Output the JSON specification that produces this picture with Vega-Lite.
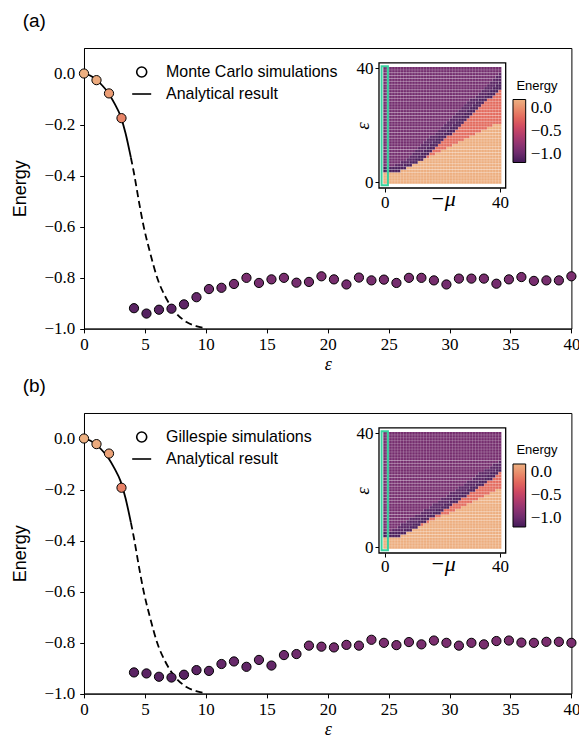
{
"$schema": "https://vega.github.io/schema/vega-lite/v6.json",
"background": "white",
"padding": {"left": 11, "top": 11, "right": 2, "bottom": 0},
"datasets": {
"curve": [
{"x":0,"y":0,"seg":"solid"},{"x":0.5,"y":-0.008,"seg":"solid"},{"x":1,"y":-0.024,"seg":"solid"},{"x":1.5,"y":-0.047,"seg":"solid"},{"x":2,"y":-0.076,"seg":"solid"},{"x":2.5,"y":-0.117,"seg":"solid"},{"x":3,"y":-0.167,"seg":"solid"},{"x":3.4,"y":-0.232,"seg":"solid"},{"x":3.85,"y":-0.33,"seg":"solid"},
{"x":3.85,"y":-0.33,"seg":"dash"},{"x":4.1,"y":-0.39,"seg":"dash"},{"x":4.5,"y":-0.5,"seg":"dash"},{"x":4.9,"y":-0.6,"seg":"dash"},{"x":5.45,"y":-0.707,"seg":"dash"},{"x":6,"y":-0.8,"seg":"dash"},{"x":6.7,"y":-0.877,"seg":"dash"},{"x":7.5,"y":-0.936,"seg":"dash"},{"x":8.45,"y":-0.975,"seg":"dash"},{"x":9.2,"y":-0.99,"seg":"dash"},{"x":10,"y":-0.998,"seg":"dash"}],
"ptsA": [{"x":0,"y":0},{"x":1.026,"y":-0.026},{"x":2.051,"y":-0.078},{"x":3.077,"y":-0.175},{"x":4.103,"y":-0.92},{"x":5.128,"y":-0.941},{"x":6.154,"y":-0.926},{"x":7.179,"y":-0.922},{"x":8.205,"y":-0.905},{"x":9.231,"y":-0.877},{"x":10.256,"y":-0.845},{"x":11.282,"y":-0.84},{"x":12.308,"y":-0.825},{"x":13.333,"y":-0.801},{"x":14.359,"y":-0.821},{"x":15.385,"y":-0.807},{"x":16.41,"y":-0.801},{"x":17.436,"y":-0.82},{"x":18.462,"y":-0.817},{"x":19.487,"y":-0.795},{"x":20.513,"y":-0.807},{"x":21.538,"y":-0.827},{"x":22.564,"y":-0.8},{"x":23.59,"y":-0.811},{"x":24.615,"y":-0.808},{"x":25.641,"y":-0.821},{"x":26.667,"y":-0.801},{"x":27.692,"y":-0.801},{"x":28.718,"y":-0.811},{"x":29.744,"y":-0.827},{"x":30.769,"y":-0.804},{"x":31.795,"y":-0.804},{"x":32.821,"y":-0.804},{"x":33.846,"y":-0.824},{"x":34.872,"y":-0.807},{"x":35.897,"y":-0.798},{"x":36.923,"y":-0.813},{"x":37.949,"y":-0.811},{"x":38.974,"y":-0.811},{"x":40,"y":-0.795}],
"ptsB": [{"x":0,"y":0},{"x":1.026,"y":-0.022},{"x":2.051,"y":-0.059},{"x":3.077,"y":-0.193},{"x":4.103,"y":-0.917},{"x":5.128,"y":-0.921},{"x":6.154,"y":-0.934},{"x":7.179,"y":-0.937},{"x":8.205,"y":-0.926},{"x":9.231,"y":-0.908},{"x":10.256,"y":-0.911},{"x":11.282,"y":-0.884},{"x":12.308,"y":-0.874},{"x":13.333,"y":-0.895},{"x":14.359,"y":-0.868},{"x":15.385,"y":-0.89},{"x":16.41,"y":-0.849},{"x":17.436,"y":-0.845},{"x":18.462,"y":-0.812},{"x":19.487,"y":-0.816},{"x":20.513,"y":-0.819},{"x":21.538,"y":-0.809},{"x":22.564,"y":-0.812},{"x":23.59,"y":-0.789},{"x":24.615,"y":-0.801},{"x":25.641,"y":-0.81},{"x":26.667,"y":-0.798},{"x":27.692,"y":-0.807},{"x":28.718,"y":-0.792},{"x":29.744,"y":-0.801},{"x":30.769,"y":-0.812},{"x":31.795,"y":-0.801},{"x":32.821,"y":-0.807},{"x":33.846,"y":-0.794},{"x":34.872,"y":-0.792},{"x":35.897,"y":-0.8},{"x":36.923,"y":-0.801},{"x":37.949,"y":-0.797},{"x":38.974,"y":-0.797},{"x":40,"y":-0.801}],
"legA": [{"lab":"Monte Carlo simulations"}],
"legB": [{"lab":"Gillespie simulations"}],
"one": [{"k":1}],
"grid": [{"g":0.5},{"g":1.5},{"g":2.5},{"g":3.5},{"g":4.5},{"g":5.5},{"g":6.5},{"g":7.5},{"g":8.5},{"g":9.5},{"g":10.5},{"g":11.5},{"g":12.5},{"g":13.5},{"g":14.5},{"g":15.5},{"g":16.5},{"g":17.5},{"g":18.5},{"g":19.5},{"g":20.5},{"g":21.5},{"g":22.5},{"g":23.5},{"g":24.5},{"g":25.5},{"g":26.5},{"g":27.5},{"g":28.5},{"g":29.5},{"g":30.5},{"g":31.5},{"g":32.5},{"g":33.5},{"g":34.5},{"g":35.5},{"g":36.5},{"g":37.5},{"g":38.5},{"g":39.5}],
"hA": [
{"x":-0.5,"x2":40.5,"y":-0.5,"y2":3.5,"e":-0.01},
{"x":-0.5,"x2":5.5,"y":3.5,"y2":4.5,"e":-0.98},{"x":5.5,"x2":40.5,"y":3.5,"y2":4.5,"e":-0.01},
{"x":-0.5,"x2":7.5,"y":4.5,"y2":5.5,"e":-0.98},{"x":7.5,"x2":40.5,"y":4.5,"y2":5.5,"e":-0.01},
{"x":-0.5,"x2":3.5,"y":5.5,"y2":6.5,"e":-0.83},{"x":3.5,"x2":6.5,"y":5.5,"y2":6.5,"e":-0.93},{"x":6.5,"x2":9.5,"y":5.5,"y2":6.5,"e":-0.98},{"x":9.5,"x2":40.5,"y":5.5,"y2":6.5,"e":-0.01},
{"x":-0.5,"x2":5.5,"y":6.5,"y2":7.5,"e":-0.83},{"x":5.5,"x2":8.5,"y":6.5,"y2":7.5,"e":-0.93},{"x":8.5,"x2":11.5,"y":6.5,"y2":7.5,"e":-0.98},{"x":11.5,"x2":40.5,"y":6.5,"y2":7.5,"e":-0.01},
{"x":-0.5,"x2":7.5,"y":7.5,"y2":8.5,"e":-0.83},{"x":7.5,"x2":10.5,"y":7.5,"y2":8.5,"e":-0.93},{"x":10.5,"x2":13.5,"y":7.5,"y2":8.5,"e":-0.98},{"x":13.5,"x2":40.5,"y":7.5,"y2":8.5,"e":-0.01},
{"x":-0.5,"x2":8.5,"y":8.5,"y2":9.5,"e":-0.83},{"x":8.5,"x2":11.5,"y":8.5,"y2":9.5,"e":-0.93},{"x":11.5,"x2":14.5,"y":8.5,"y2":9.5,"e":-0.98},{"x":14.5,"x2":15.5,"y":8.5,"y2":9.5,"e":-0.28},{"x":15.5,"x2":40.5,"y":8.5,"y2":9.5,"e":-0.01},
{"x":-0.5,"x2":9.5,"y":9.5,"y2":10.5,"e":-0.83},{"x":9.5,"x2":12.5,"y":9.5,"y2":10.5,"e":-0.93},{"x":12.5,"x2":15.5,"y":9.5,"y2":10.5,"e":-0.98},{"x":15.5,"x2":17.5,"y":9.5,"y2":10.5,"e":-0.28},{"x":17.5,"x2":40.5,"y":9.5,"y2":10.5,"e":-0.01},
{"x":-0.5,"x2":10.5,"y":10.5,"y2":11.5,"e":-0.83},{"x":10.5,"x2":13.5,"y":10.5,"y2":11.5,"e":-0.93},{"x":13.5,"x2":16.5,"y":10.5,"y2":11.5,"e":-0.98},{"x":16.5,"x2":19.5,"y":10.5,"y2":11.5,"e":-0.28},{"x":19.5,"x2":40.5,"y":10.5,"y2":11.5,"e":-0.01},
{"x":-0.5,"x2":11.5,"y":11.5,"y2":12.5,"e":-0.83},{"x":11.5,"x2":14.5,"y":11.5,"y2":12.5,"e":-0.93},{"x":14.5,"x2":17.5,"y":11.5,"y2":12.5,"e":-0.98},{"x":17.5,"x2":21.5,"y":11.5,"y2":12.5,"e":-0.28},{"x":21.5,"x2":40.5,"y":11.5,"y2":12.5,"e":-0.01},
{"x":-0.5,"x2":12.5,"y":12.5,"y2":13.5,"e":-0.83},{"x":12.5,"x2":15.5,"y":12.5,"y2":13.5,"e":-0.93},{"x":15.5,"x2":18.5,"y":12.5,"y2":13.5,"e":-0.98},{"x":18.5,"x2":23.5,"y":12.5,"y2":13.5,"e":-0.28},{"x":23.5,"x2":40.5,"y":12.5,"y2":13.5,"e":-0.01},
{"x":-0.5,"x2":13.5,"y":13.5,"y2":14.5,"e":-0.83},{"x":13.5,"x2":16.5,"y":13.5,"y2":14.5,"e":-0.93},{"x":16.5,"x2":19.5,"y":13.5,"y2":14.5,"e":-0.98},{"x":19.5,"x2":25.5,"y":13.5,"y2":14.5,"e":-0.28},{"x":25.5,"x2":40.5,"y":13.5,"y2":14.5,"e":-0.01},
{"x":-0.5,"x2":14.5,"y":14.5,"y2":15.5,"e":-0.83},{"x":14.5,"x2":17.5,"y":14.5,"y2":15.5,"e":-0.93},{"x":17.5,"x2":20.5,"y":14.5,"y2":15.5,"e":-0.98},{"x":20.5,"x2":27.5,"y":14.5,"y2":15.5,"e":-0.28},{"x":27.5,"x2":40.5,"y":14.5,"y2":15.5,"e":-0.01},
{"x":-0.5,"x2":15.5,"y":15.5,"y2":16.5,"e":-0.83},{"x":15.5,"x2":18.5,"y":15.5,"y2":16.5,"e":-0.93},{"x":18.5,"x2":21.5,"y":15.5,"y2":16.5,"e":-0.98},{"x":21.5,"x2":29.5,"y":15.5,"y2":16.5,"e":-0.28},{"x":29.5,"x2":40.5,"y":15.5,"y2":16.5,"e":-0.01},
{"x":-0.5,"x2":17.5,"y":16.5,"y2":17.5,"e":-0.83},{"x":17.5,"x2":20.5,"y":16.5,"y2":17.5,"e":-0.93},{"x":20.5,"x2":23.5,"y":16.5,"y2":17.5,"e":-0.98},{"x":23.5,"x2":31.5,"y":16.5,"y2":17.5,"e":-0.28},{"x":31.5,"x2":40.5,"y":16.5,"y2":17.5,"e":-0.01},
{"x":-0.5,"x2":18.5,"y":17.5,"y2":18.5,"e":-0.83},{"x":18.5,"x2":21.5,"y":17.5,"y2":18.5,"e":-0.93},{"x":21.5,"x2":24.5,"y":17.5,"y2":18.5,"e":-0.98},{"x":24.5,"x2":33.5,"y":17.5,"y2":18.5,"e":-0.28},{"x":33.5,"x2":40.5,"y":17.5,"y2":18.5,"e":-0.01},
{"x":-0.5,"x2":19.5,"y":18.5,"y2":19.5,"e":-0.83},{"x":19.5,"x2":22.5,"y":18.5,"y2":19.5,"e":-0.93},{"x":22.5,"x2":25.5,"y":18.5,"y2":19.5,"e":-0.98},{"x":25.5,"x2":35.5,"y":18.5,"y2":19.5,"e":-0.28},{"x":35.5,"x2":40.5,"y":18.5,"y2":19.5,"e":-0.01},
{"x":-0.5,"x2":20.5,"y":19.5,"y2":20.5,"e":-0.83},{"x":20.5,"x2":23.5,"y":19.5,"y2":20.5,"e":-0.93},{"x":23.5,"x2":26.5,"y":19.5,"y2":20.5,"e":-0.98},{"x":26.5,"x2":37.5,"y":19.5,"y2":20.5,"e":-0.28},{"x":37.5,"x2":40.5,"y":19.5,"y2":20.5,"e":-0.01},
{"x":-0.5,"x2":21.5,"y":20.5,"y2":21.5,"e":-0.83},{"x":21.5,"x2":24.5,"y":20.5,"y2":21.5,"e":-0.93},{"x":24.5,"x2":27.5,"y":20.5,"y2":21.5,"e":-0.98},{"x":27.5,"x2":40.5,"y":20.5,"y2":21.5,"e":-0.28},
{"x":-0.5,"x2":22.5,"y":21.5,"y2":22.5,"e":-0.83},{"x":22.5,"x2":25.5,"y":21.5,"y2":22.5,"e":-0.93},{"x":25.5,"x2":28.5,"y":21.5,"y2":22.5,"e":-0.98},{"x":28.5,"x2":40.5,"y":21.5,"y2":22.5,"e":-0.28},
{"x":-0.5,"x2":23.5,"y":22.5,"y2":23.5,"e":-0.83},{"x":23.5,"x2":26.5,"y":22.5,"y2":23.5,"e":-0.93},{"x":26.5,"x2":29.5,"y":22.5,"y2":23.5,"e":-0.98},{"x":29.5,"x2":40.5,"y":22.5,"y2":23.5,"e":-0.28},
{"x":-0.5,"x2":24.5,"y":23.5,"y2":24.5,"e":-0.83},{"x":24.5,"x2":27.5,"y":23.5,"y2":24.5,"e":-0.93},{"x":27.5,"x2":30.5,"y":23.5,"y2":24.5,"e":-0.98},{"x":30.5,"x2":40.5,"y":23.5,"y2":24.5,"e":-0.28},
{"x":-0.5,"x2":25.5,"y":24.5,"y2":25.5,"e":-0.83},{"x":25.5,"x2":28.5,"y":24.5,"y2":25.5,"e":-0.93},{"x":28.5,"x2":31.5,"y":24.5,"y2":25.5,"e":-0.98},{"x":31.5,"x2":40.5,"y":24.5,"y2":25.5,"e":-0.28},
{"x":-0.5,"x2":26.5,"y":25.5,"y2":26.5,"e":-0.83},{"x":26.5,"x2":29.5,"y":25.5,"y2":26.5,"e":-0.93},{"x":29.5,"x2":32.5,"y":25.5,"y2":26.5,"e":-0.98},{"x":32.5,"x2":40.5,"y":25.5,"y2":26.5,"e":-0.28},
{"x":-0.5,"x2":27.5,"y":26.5,"y2":27.5,"e":-0.83},{"x":27.5,"x2":30.5,"y":26.5,"y2":27.5,"e":-0.93},{"x":30.5,"x2":33.5,"y":26.5,"y2":27.5,"e":-0.98},{"x":33.5,"x2":40.5,"y":26.5,"y2":27.5,"e":-0.28},
{"x":-0.5,"x2":28.5,"y":27.5,"y2":28.5,"e":-0.83},{"x":28.5,"x2":31.5,"y":27.5,"y2":28.5,"e":-0.93},{"x":31.5,"x2":34.5,"y":27.5,"y2":28.5,"e":-0.98},{"x":34.5,"x2":40.5,"y":27.5,"y2":28.5,"e":-0.28},
{"x":-0.5,"x2":29.5,"y":28.5,"y2":29.5,"e":-0.83},{"x":29.5,"x2":32.5,"y":28.5,"y2":29.5,"e":-0.93},{"x":32.5,"x2":35.5,"y":28.5,"y2":29.5,"e":-0.98},{"x":35.5,"x2":40.5,"y":28.5,"y2":29.5,"e":-0.28},
{"x":-0.5,"x2":31.5,"y":29.5,"y2":30.5,"e":-0.83},{"x":31.5,"x2":34.5,"y":29.5,"y2":30.5,"e":-0.93},{"x":34.5,"x2":37.5,"y":29.5,"y2":30.5,"e":-0.98},{"x":37.5,"x2":40.5,"y":29.5,"y2":30.5,"e":-0.28},
{"x":-0.5,"x2":32.5,"y":30.5,"y2":31.5,"e":-0.83},{"x":32.5,"x2":35.5,"y":30.5,"y2":31.5,"e":-0.93},{"x":35.5,"x2":38.5,"y":30.5,"y2":31.5,"e":-0.98},{"x":38.5,"x2":40.5,"y":30.5,"y2":31.5,"e":-0.28},
{"x":-0.5,"x2":33.5,"y":31.5,"y2":32.5,"e":-0.83},{"x":33.5,"x2":36.5,"y":31.5,"y2":32.5,"e":-0.93},{"x":36.5,"x2":39.5,"y":31.5,"y2":32.5,"e":-0.98},{"x":39.5,"x2":40.5,"y":31.5,"y2":32.5,"e":-0.28},
{"x":-0.5,"x2":34.5,"y":32.5,"y2":33.5,"e":-0.83},{"x":34.5,"x2":37.5,"y":32.5,"y2":33.5,"e":-0.93},{"x":37.5,"x2":40.5,"y":32.5,"y2":33.5,"e":-0.98},
{"x":-0.5,"x2":35.5,"y":33.5,"y2":34.5,"e":-0.83},{"x":35.5,"x2":38.5,"y":33.5,"y2":34.5,"e":-0.93},{"x":38.5,"x2":40.5,"y":33.5,"y2":34.5,"e":-0.98},
{"x":-0.5,"x2":36.5,"y":34.5,"y2":35.5,"e":-0.83},{"x":36.5,"x2":39.5,"y":34.5,"y2":35.5,"e":-0.93},{"x":39.5,"x2":40.5,"y":34.5,"y2":35.5,"e":-0.98},
{"x":-0.5,"x2":37.5,"y":35.5,"y2":36.5,"e":-0.83},{"x":37.5,"x2":40.5,"y":35.5,"y2":36.5,"e":-0.93},
{"x":-0.5,"x2":38.5,"y":36.5,"y2":37.5,"e":-0.83},{"x":38.5,"x2":40.5,"y":36.5,"y2":37.5,"e":-0.93},
{"x":-0.5,"x2":39.5,"y":37.5,"y2":38.5,"e":-0.83},{"x":39.5,"x2":40.5,"y":37.5,"y2":38.5,"e":-0.93},
{"x":-0.5,"x2":40.5,"y":38.5,"y2":40.5,"e":-0.83}],
"hB": [
{"x":-0.5,"x2":40.5,"y":-0.5,"y2":3.5,"e":-0.01},
{"x":-0.5,"x2":5.5,"y":3.5,"y2":4.5,"e":-0.98},{"x":5.5,"x2":40.5,"y":3.5,"y2":4.5,"e":-0.01},
{"x":-0.5,"x2":7.5,"y":4.5,"y2":5.5,"e":-0.98},{"x":7.5,"x2":40.5,"y":4.5,"y2":5.5,"e":-0.01},
{"x":-0.5,"x2":2.5,"y":5.5,"y2":6.5,"e":-0.82},{"x":2.5,"x2":6.5,"y":5.5,"y2":6.5,"e":-0.93},{"x":6.5,"x2":9.5,"y":5.5,"y2":6.5,"e":-0.98},{"x":9.5,"x2":40.5,"y":5.5,"y2":6.5,"e":-0.01},
{"x":-0.5,"x2":4.5,"y":6.5,"y2":7.5,"e":-0.82},{"x":4.5,"x2":8.5,"y":6.5,"y2":7.5,"e":-0.93},{"x":8.5,"x2":11.5,"y":6.5,"y2":7.5,"e":-0.98},{"x":11.5,"x2":40.5,"y":6.5,"y2":7.5,"e":-0.01},
{"x":-0.5,"x2":5.5,"y":7.5,"y2":8.5,"e":-0.82},{"x":5.5,"x2":9.5,"y":7.5,"y2":8.5,"e":-0.93},{"x":9.5,"x2":12.5,"y":7.5,"y2":8.5,"e":-0.98},{"x":12.5,"x2":13.5,"y":7.5,"y2":8.5,"e":-0.28},{"x":13.5,"x2":40.5,"y":7.5,"y2":8.5,"e":-0.01},
{"x":-0.5,"x2":7.5,"y":8.5,"y2":9.5,"e":-0.82},{"x":7.5,"x2":11.5,"y":8.5,"y2":9.5,"e":-0.93},{"x":11.5,"x2":14.5,"y":8.5,"y2":9.5,"e":-0.98},{"x":14.5,"x2":15.5,"y":8.5,"y2":9.5,"e":-0.28},{"x":15.5,"x2":40.5,"y":8.5,"y2":9.5,"e":-0.01},
{"x":-0.5,"x2":8.5,"y":9.5,"y2":10.5,"e":-0.82},{"x":8.5,"x2":12.5,"y":9.5,"y2":10.5,"e":-0.93},{"x":12.5,"x2":15.5,"y":9.5,"y2":10.5,"e":-0.98},{"x":15.5,"x2":17.5,"y":9.5,"y2":10.5,"e":-0.28},{"x":17.5,"x2":40.5,"y":9.5,"y2":10.5,"e":-0.01},
{"x":-0.5,"x2":10.5,"y":10.5,"y2":11.5,"e":-0.82},{"x":10.5,"x2":14.5,"y":10.5,"y2":11.5,"e":-0.93},{"x":14.5,"x2":17.5,"y":10.5,"y2":11.5,"e":-0.98},{"x":17.5,"x2":19.5,"y":10.5,"y2":11.5,"e":-0.28},{"x":19.5,"x2":40.5,"y":10.5,"y2":11.5,"e":-0.01},
{"x":-0.5,"x2":12.5,"y":11.5,"y2":12.5,"e":-0.82},{"x":12.5,"x2":16.5,"y":11.5,"y2":12.5,"e":-0.93},{"x":16.5,"x2":19.5,"y":11.5,"y2":12.5,"e":-0.98},{"x":19.5,"x2":22.5,"y":11.5,"y2":12.5,"e":-0.28},{"x":22.5,"x2":40.5,"y":11.5,"y2":12.5,"e":-0.01},
{"x":-0.5,"x2":13.5,"y":12.5,"y2":13.5,"e":-0.82},{"x":13.5,"x2":17.5,"y":12.5,"y2":13.5,"e":-0.93},{"x":17.5,"x2":20.5,"y":12.5,"y2":13.5,"e":-0.98},{"x":20.5,"x2":24.5,"y":12.5,"y2":13.5,"e":-0.28},{"x":24.5,"x2":40.5,"y":12.5,"y2":13.5,"e":-0.01},
{"x":-0.5,"x2":15.5,"y":13.5,"y2":14.5,"e":-0.82},{"x":15.5,"x2":19.5,"y":13.5,"y2":14.5,"e":-0.93},{"x":19.5,"x2":22.5,"y":13.5,"y2":14.5,"e":-0.98},{"x":22.5,"x2":26.5,"y":13.5,"y2":14.5,"e":-0.28},{"x":26.5,"x2":40.5,"y":13.5,"y2":14.5,"e":-0.01},
{"x":-0.5,"x2":16.5,"y":14.5,"y2":15.5,"e":-0.82},{"x":16.5,"x2":20.5,"y":14.5,"y2":15.5,"e":-0.93},{"x":20.5,"x2":23.5,"y":14.5,"y2":15.5,"e":-0.98},{"x":23.5,"x2":28.5,"y":14.5,"y2":15.5,"e":-0.28},{"x":28.5,"x2":40.5,"y":14.5,"y2":15.5,"e":-0.01},
{"x":-0.5,"x2":18.5,"y":15.5,"y2":16.5,"e":-0.82},{"x":18.5,"x2":22.5,"y":15.5,"y2":16.5,"e":-0.93},{"x":22.5,"x2":25.5,"y":15.5,"y2":16.5,"e":-0.98},{"x":25.5,"x2":30.5,"y":15.5,"y2":16.5,"e":-0.28},{"x":30.5,"x2":40.5,"y":15.5,"y2":16.5,"e":-0.01},
{"x":-0.5,"x2":19.5,"y":16.5,"y2":17.5,"e":-0.82},{"x":19.5,"x2":23.5,"y":16.5,"y2":17.5,"e":-0.93},{"x":23.5,"x2":26.5,"y":16.5,"y2":17.5,"e":-0.98},{"x":26.5,"x2":32.5,"y":16.5,"y2":17.5,"e":-0.28},{"x":32.5,"x2":40.5,"y":16.5,"y2":17.5,"e":-0.01},
{"x":-0.5,"x2":21.5,"y":17.5,"y2":18.5,"e":-0.82},{"x":21.5,"x2":25.5,"y":17.5,"y2":18.5,"e":-0.93},{"x":25.5,"x2":28.5,"y":17.5,"y2":18.5,"e":-0.98},{"x":28.5,"x2":34.5,"y":17.5,"y2":18.5,"e":-0.28},{"x":34.5,"x2":40.5,"y":17.5,"y2":18.5,"e":-0.01},
{"x":-0.5,"x2":22.5,"y":18.5,"y2":19.5,"e":-0.82},{"x":22.5,"x2":26.5,"y":18.5,"y2":19.5,"e":-0.93},{"x":26.5,"x2":29.5,"y":18.5,"y2":19.5,"e":-0.98},{"x":29.5,"x2":36.5,"y":18.5,"y2":19.5,"e":-0.28},{"x":36.5,"x2":40.5,"y":18.5,"y2":19.5,"e":-0.01},
{"x":-0.5,"x2":24.5,"y":19.5,"y2":20.5,"e":-0.82},{"x":24.5,"x2":28.5,"y":19.5,"y2":20.5,"e":-0.93},{"x":28.5,"x2":31.5,"y":19.5,"y2":20.5,"e":-0.98},{"x":31.5,"x2":38.5,"y":19.5,"y2":20.5,"e":-0.28},{"x":38.5,"x2":40.5,"y":19.5,"y2":20.5,"e":-0.01},
{"x":-0.5,"x2":25.5,"y":20.5,"y2":21.5,"e":-0.82},{"x":25.5,"x2":29.5,"y":20.5,"y2":21.5,"e":-0.93},{"x":29.5,"x2":32.5,"y":20.5,"y2":21.5,"e":-0.98},{"x":32.5,"x2":40.5,"y":20.5,"y2":21.5,"e":-0.28},
{"x":-0.5,"x2":27.5,"y":21.5,"y2":22.5,"e":-0.82},{"x":27.5,"x2":31.5,"y":21.5,"y2":22.5,"e":-0.93},{"x":31.5,"x2":34.5,"y":21.5,"y2":22.5,"e":-0.98},{"x":34.5,"x2":40.5,"y":21.5,"y2":22.5,"e":-0.28},
{"x":-0.5,"x2":28.5,"y":22.5,"y2":23.5,"e":-0.82},{"x":28.5,"x2":32.5,"y":22.5,"y2":23.5,"e":-0.93},{"x":32.5,"x2":35.5,"y":22.5,"y2":23.5,"e":-0.98},{"x":35.5,"x2":40.5,"y":22.5,"y2":23.5,"e":-0.28},
{"x":-0.5,"x2":30.5,"y":23.5,"y2":24.5,"e":-0.82},{"x":30.5,"x2":34.5,"y":23.5,"y2":24.5,"e":-0.93},{"x":34.5,"x2":37.5,"y":23.5,"y2":24.5,"e":-0.98},{"x":37.5,"x2":40.5,"y":23.5,"y2":24.5,"e":-0.28},
{"x":-0.5,"x2":31.5,"y":24.5,"y2":25.5,"e":-0.82},{"x":31.5,"x2":35.5,"y":24.5,"y2":25.5,"e":-0.93},{"x":35.5,"x2":38.5,"y":24.5,"y2":25.5,"e":-0.98},{"x":38.5,"x2":40.5,"y":24.5,"y2":25.5,"e":-0.28},
{"x":-0.5,"x2":32.5,"y":25.5,"y2":26.5,"e":-0.82},{"x":32.5,"x2":36.5,"y":25.5,"y2":26.5,"e":-0.93},{"x":36.5,"x2":39.5,"y":25.5,"y2":26.5,"e":-0.98},{"x":39.5,"x2":40.5,"y":25.5,"y2":26.5,"e":-0.28},
{"x":-0.5,"x2":34.5,"y":26.5,"y2":27.5,"e":-0.82},{"x":34.5,"x2":38.5,"y":26.5,"y2":27.5,"e":-0.93},{"x":38.5,"x2":40.5,"y":26.5,"y2":27.5,"e":-0.98},
{"x":-0.5,"x2":36.5,"y":27.5,"y2":28.5,"e":-0.82},{"x":36.5,"x2":40.5,"y":27.5,"y2":28.5,"e":-0.93},
{"x":-0.5,"x2":37.5,"y":28.5,"y2":29.5,"e":-0.82},{"x":37.5,"x2":40.5,"y":28.5,"y2":29.5,"e":-0.93},
{"x":-0.5,"x2":39.5,"y":29.5,"y2":30.5,"e":-0.82},{"x":39.5,"x2":40.5,"y":29.5,"y2":30.5,"e":-0.93},
{"x":-0.5,"x2":40.5,"y":30.5,"y2":40.5,"e":-0.82}]
},
"vconcat": [
{
"width": 487.4, "height": 280.6,
"title": {"text": "(a)", "anchor": "start", "frame": "group", "dx": -61.3, "offset": 2, "baseline": "alphabetic", "font": "Liberation Sans", "fontSize": 19, "fontWeight": "normal", "color": "black"},
"layer": [
{
"encoding": {
"x": {"field": "x", "type": "quantitative", "scale": {"domain": [0, 40], "nice": false, "zero": false}, "axis": {"values": [0,5,10,15,20,25,30,35,40], "title": "ε", "titleFont": "Liberation Serif", "labelFont": "Liberation Serif", "titleFontStyle": "italic", "titleFontSize": 18, "titlePadding": 3, "tickSize": 4.3, "labelPadding": 3.5, "labelFontSize": 17}},
"y": {"field": "y", "type": "quantitative", "scale": {"domain": [-1, 0.1], "nice": false, "zero": false}, "axis": {"values": [-1,-0.8,-0.6,-0.4,-0.2,0], "labelExpr": "replace(format(datum.value, '.1f'), '-', '−')", "labelFont": "Liberation Serif", "labelFontSize": 17, "title": "Energy", "titleFont": "Liberation Sans", "titleFontSize": 18, "titlePadding": 14, "tickSize": 4.3, "labelPadding": 5}}
},
"layer": [
{"data": {"name": "curve"}, "transform": [{"filter": "datum.seg == 'solid'"}], "mark": {"type": "line", "color": "black", "strokeWidth": 1.8, "interpolate": "monotone"}},
{"data": {"name": "curve"}, "transform": [{"filter": "datum.seg == 'dash'"}], "mark": {"type": "line", "color": "black", "strokeWidth": 1.8, "strokeDash": [7, 4], "interpolate": "monotone"}},
{"data": {"name": "ptsA"}, "mark": {"type": "point", "filled": true, "size": 85, "stroke": "black", "strokeWidth": 1, "opacity": 1},
 "encoding": {"color": {"field": "y", "type": "quantitative", "title": "Energy",
   "scale": {"type": "linear", "domain": [-1,-0.857,-0.714,-0.571,-0.429,-0.286,-0.143,0], "range": ["#431a57","#6c2b6d","#8f3371","#b13c6c","#d14a61","#e3685c","#e98d6b","#edb081"], "interpolate": "rgb"},
   "legend": {"orient": "none", "legendX": 429, "legendY": 31.5, "direction": "vertical", "gradientLength": 63, "gradientThickness": 12.7, "title": "Energy", "titleFont": "Liberation Sans", "titleFontSize": 13, "titleFontWeight": "normal", "titleColor": "black", "titlePadding": 7, "titleAnchor": "middle", "labelFont": "Liberation Serif", "labelFontSize": 17, "labelColor": "black", "labelOffset": 5, "labelBaseline": "middle", "values": [-1, -0.5, 0], "labelExpr": "replace(format(datum.value, '.1f'), '-', '−')", "gradientStrokeColor": "black", "gradientStrokeWidth": 1, "padding": 0, "labelOverlap": false}}}},
{"data": {"name": "legA"}, "transform": [{"filter": "datum.lab == 'none'"}], "mark": {"type": "point", "filled": false, "stroke": "black", "strokeWidth": 1.6, "size": 100, "opacity": 1},
 "encoding": {"shape": {"field": "lab", "type": "nominal", "scale": {"domain": ["Monte Carlo simulations", "Analytical result"], "range": ["circle", "M-1.9,0H1.9"]},
   "legend": {"title": null, "orient": "none", "legendX": 49.7, "legendY": 16, "padding": 0, "labelFont": "Liberation Sans", "labelFontSize": 16, "labelColor": "black", "labelOffset": 16.3, "labelLimit": 400, "rowPadding": 5, "symbolStrokeColor": "black", "symbolStrokeWidth": 1.6, "symbolFillColor": "transparent"}}}}
]
},
{
"layer": [
{"data": {"name": "one"}, "mark": {"type": "rect", "fill": "white", "strokeWidth": 0},
 "encoding": {
 "x": {"datum": -2, "type": "quantitative", "scale": {"domain": [-2, 42], "range": [295, 421.7], "nice": false, "zero": false}, "axis": {"orient": "bottom", "offset": -140.6, "values": [0, 40], "labelFont": "Liberation Serif", "labelFontSize": 17, "title": "−μ", "titleFont": "Liberation Serif", "titleFontStyle": "italic", "titleFontSize": 22, "titleY": 17.5, "titleBaseline": "alphabetic", "domain": false, "tickSize": 4, "labelPadding": 2}},
 "x2": {"datum": 42},
 "y": {"datum": -2, "type": "quantitative", "scale": {"domain": [-2, 42], "range": [140, 14.8], "nice": false, "zero": false}, "axis": {"orient": "left", "offset": -295, "values": [0, 40], "labelFont": "Liberation Serif", "labelFontSize": 17, "title": "ε", "titleFont": "Liberation Serif", "titleFontStyle": "italic", "titleFontSize": 19, "titleX": -16, "titleY": 77.4, "titleBaseline": "middle", "titleAlign": "center", "domain": false, "tickSize": 4, "labelPadding": 2}},
 "y2": {"datum": 42}}},
{"data": {"name": "hA"}, "mark": {"type": "rect"},
 "encoding": {"x": {"field": "x", "type": "quantitative"}, "x2": {"field": "x2"}, "y": {"field": "y", "type": "quantitative"}, "y2": {"field": "y2"},
 "color": {"field": "e", "type": "quantitative", "title": "Energy", "scale": {"type": "linear", "domain": [-1,-0.857,-0.714,-0.571,-0.429,-0.286,-0.143,0], "range": ["#431a57","#6c2b6d","#8f3371","#b13c6c","#d14a61","#e3685c","#e98d6b","#edb081"], "interpolate": "rgb"}}}},
{"data": {"name": "grid"}, "mark": {"type": "rule", "color": "white", "strokeWidth": 0.6, "opacity": 0.35}, "encoding": {"x": {"field": "g", "type": "quantitative"}, "y": {"datum": -0.5, "type": "quantitative"}, "y2": {"datum": 40.5}}},
{"data": {"name": "grid"}, "mark": {"type": "rule", "color": "white", "strokeWidth": 0.6, "opacity": 0.35}, "encoding": {"y": {"field": "g", "type": "quantitative"}, "x": {"datum": -0.5, "type": "quantitative"}, "x2": {"datum": 40.5}}},
{"data": {"name": "one"}, "mark": {"type": "rect", "fill": "transparent", "stroke": "#3ad29f", "strokeWidth": 2}, "encoding": {"x": {"datum": -1.1, "type": "quantitative"}, "x2": {"datum": 1.1}, "y": {"datum": -1, "type": "quantitative"}, "y2": {"datum": 40.8}}},
{"data": {"name": "one"}, "mark": {"type": "rect", "fill": "transparent", "stroke": "black", "strokeWidth": 1.3}, "encoding": {"x": {"datum": -2, "type": "quantitative"}, "x2": {"datum": 42}, "y": {"datum": -2, "type": "quantitative"}, "y2": {"datum": 42}}}
]
}
],
"resolve": {"scale": {"x": "independent", "y": "independent"}}
},
{
"width": 487.4, "height": 280.6,
"title": {"text": "(b)", "anchor": "start", "frame": "group", "dx": -61.3, "offset": 2, "baseline": "alphabetic", "font": "Liberation Sans", "fontSize": 19, "fontWeight": "normal", "color": "black"},
"layer": [
{
"encoding": {
"x": {"field": "x", "type": "quantitative", "scale": {"domain": [0, 40], "nice": false, "zero": false}, "axis": {"values": [0,5,10,15,20,25,30,35,40], "title": "ε", "titleFont": "Liberation Serif", "labelFont": "Liberation Serif", "titleFontStyle": "italic", "titleFontSize": 18, "titlePadding": 3, "tickSize": 4.3, "labelPadding": 3.5, "labelFontSize": 17}},
"y": {"field": "y", "type": "quantitative", "scale": {"domain": [-1, 0.1], "nice": false, "zero": false}, "axis": {"values": [-1,-0.8,-0.6,-0.4,-0.2,0], "labelExpr": "replace(format(datum.value, '.1f'), '-', '−')", "labelFont": "Liberation Serif", "labelFontSize": 17, "title": "Energy", "titleFont": "Liberation Sans", "titleFontSize": 18, "titlePadding": 14, "tickSize": 4.3, "labelPadding": 5}}
},
"layer": [
{"data": {"name": "curve"}, "transform": [{"filter": "datum.seg == 'solid'"}], "mark": {"type": "line", "color": "black", "strokeWidth": 1.8, "interpolate": "monotone"}},
{"data": {"name": "curve"}, "transform": [{"filter": "datum.seg == 'dash'"}], "mark": {"type": "line", "color": "black", "strokeWidth": 1.8, "strokeDash": [7, 4], "interpolate": "monotone"}},
{"data": {"name": "ptsB"}, "mark": {"type": "point", "filled": true, "size": 85, "stroke": "black", "strokeWidth": 1, "opacity": 1},
 "encoding": {"color": {"field": "y", "type": "quantitative", "title": "Energy",
   "scale": {"type": "linear", "domain": [-1,-0.857,-0.714,-0.571,-0.429,-0.286,-0.143,0], "range": ["#431a57","#6c2b6d","#8f3371","#b13c6c","#d14a61","#e3685c","#e98d6b","#edb081"], "interpolate": "rgb"},
   "legend": {"orient": "none", "legendX": 429, "legendY": 31, "direction": "vertical", "gradientLength": 63, "gradientThickness": 12.7, "title": "Energy", "titleFont": "Liberation Sans", "titleFontSize": 13, "titleFontWeight": "normal", "titleColor": "black", "titlePadding": 7, "titleAnchor": "middle", "labelFont": "Liberation Serif", "labelFontSize": 17, "labelColor": "black", "labelOffset": 5, "labelBaseline": "middle", "values": [-1, -0.5, 0], "labelExpr": "replace(format(datum.value, '.1f'), '-', '−')", "gradientStrokeColor": "black", "gradientStrokeWidth": 1, "padding": 0, "labelOverlap": false}}}},
{"data": {"name": "legB"}, "transform": [{"filter": "datum.lab == 'none'"}], "mark": {"type": "point", "filled": false, "stroke": "black", "strokeWidth": 1.6, "size": 100, "opacity": 1},
 "encoding": {"shape": {"field": "lab", "type": "nominal", "scale": {"domain": ["Gillespie simulations", "Analytical result"], "range": ["circle", "M-1.9,0H1.9"]},
   "legend": {"title": null, "orient": "none", "legendX": 49.7, "legendY": 16, "padding": 0, "labelFont": "Liberation Sans", "labelFontSize": 16, "labelColor": "black", "labelOffset": 16.3, "labelLimit": 400, "rowPadding": 5, "symbolStrokeColor": "black", "symbolStrokeWidth": 1.6, "symbolFillColor": "transparent"}}}}
]
},
{
"layer": [
{"data": {"name": "one"}, "mark": {"type": "rect", "fill": "white", "strokeWidth": 0},
 "encoding": {
 "x": {"datum": -2, "type": "quantitative", "scale": {"domain": [-2, 42], "range": [295, 421.7], "nice": false, "zero": false}, "axis": {"orient": "bottom", "offset": -140.6, "values": [0, 40], "labelFont": "Liberation Serif", "labelFontSize": 17, "title": "−μ", "titleFont": "Liberation Serif", "titleFontStyle": "italic", "titleFontSize": 22, "titleY": 17.5, "titleBaseline": "alphabetic", "domain": false, "tickSize": 4, "labelPadding": 2}},
 "x2": {"datum": 42},
 "y": {"datum": -2, "type": "quantitative", "scale": {"domain": [-2, 42], "range": [140, 14.8], "nice": false, "zero": false}, "axis": {"orient": "left", "offset": -295, "values": [0, 40], "labelFont": "Liberation Serif", "labelFontSize": 17, "title": "ε", "titleFont": "Liberation Serif", "titleFontStyle": "italic", "titleFontSize": 19, "titleX": -16, "titleY": 77.4, "titleBaseline": "middle", "titleAlign": "center", "domain": false, "tickSize": 4, "labelPadding": 2}},
 "y2": {"datum": 42}}},
{"data": {"name": "hB"}, "mark": {"type": "rect"},
 "encoding": {"x": {"field": "x", "type": "quantitative"}, "x2": {"field": "x2"}, "y": {"field": "y", "type": "quantitative"}, "y2": {"field": "y2"},
 "color": {"field": "e", "type": "quantitative", "title": "Energy", "scale": {"type": "linear", "domain": [-1,-0.857,-0.714,-0.571,-0.429,-0.286,-0.143,0], "range": ["#431a57","#6c2b6d","#8f3371","#b13c6c","#d14a61","#e3685c","#e98d6b","#edb081"], "interpolate": "rgb"}}}},
{"data": {"name": "grid"}, "mark": {"type": "rule", "color": "white", "strokeWidth": 0.6, "opacity": 0.35}, "encoding": {"x": {"field": "g", "type": "quantitative"}, "y": {"datum": -0.5, "type": "quantitative"}, "y2": {"datum": 40.5}}},
{"data": {"name": "grid"}, "mark": {"type": "rule", "color": "white", "strokeWidth": 0.6, "opacity": 0.35}, "encoding": {"y": {"field": "g", "type": "quantitative"}, "x": {"datum": -0.5, "type": "quantitative"}, "x2": {"datum": 40.5}}},
{"data": {"name": "one"}, "mark": {"type": "rect", "fill": "transparent", "stroke": "#3ad29f", "strokeWidth": 2}, "encoding": {"x": {"datum": -1.1, "type": "quantitative"}, "x2": {"datum": 1.1}, "y": {"datum": -1, "type": "quantitative"}, "y2": {"datum": 40.8}}},
{"data": {"name": "one"}, "mark": {"type": "rect", "fill": "transparent", "stroke": "black", "strokeWidth": 1.3}, "encoding": {"x": {"datum": -2, "type": "quantitative"}, "x2": {"datum": 42}, "y": {"datum": -2, "type": "quantitative"}, "y2": {"datum": 42}}}
]
}
],
"resolve": {"scale": {"x": "independent", "y": "independent"}}
}
],
"spacing": 84,
"bounds": "flush",
"resolve": {"scale": {"x": "independent", "y": "independent", "color": "independent", "shape": "independent"}, "legend": {"color": "independent", "shape": "independent"}},
"config": {
"view": {"stroke": "black", "strokeWidth": 1},
"axis": {"grid": false, "domainColor": "black", "tickColor": "black", "labelColor": "black", "titleColor": "black", "titleFontWeight": "normal", "tickWidth": 1, "domainWidth": 1, "labelFlush": false, "labelOverlap": false},
"legend": {"labelColor": "black", "titleColor": "black"}
}
}
